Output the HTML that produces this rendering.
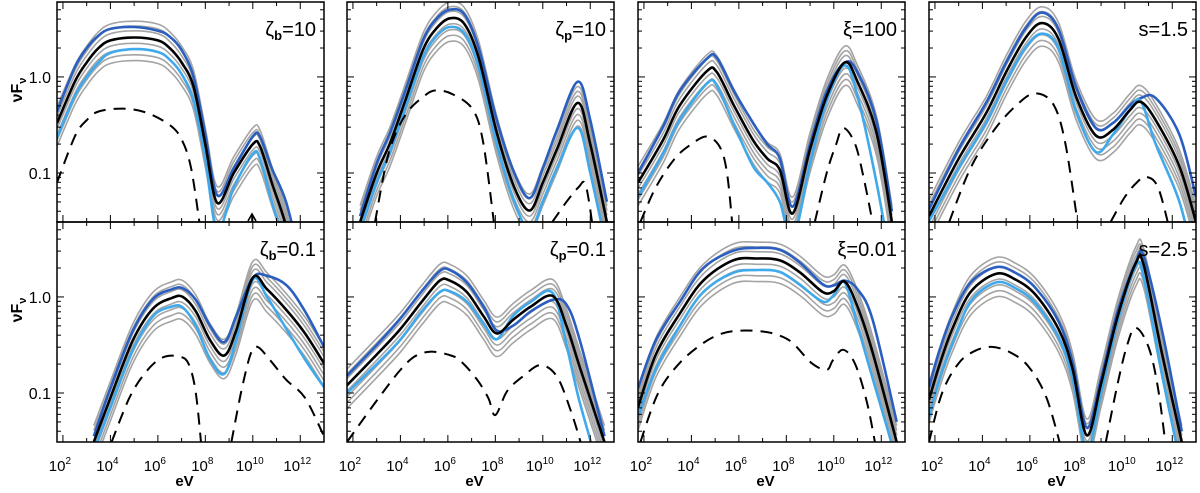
<!DOCTYPE html>
<html><head><meta charset="utf-8">
<style>
html,body{margin:0;padding:0;background:#fff;}
svg text{font-family:"Liberation Sans","DejaVu Sans",sans-serif;}
</style></head>
<body>
<svg id="chart" width="1200" height="488" viewBox="0 0 1200 488" xmlns="http://www.w3.org/2000/svg">
</svg>
<script>
// ---- data (log10 eV, log10 nuFnu) ----
const E1=[1.75,2.5,3,3.5,4,5,6,6.5,7,7.5,8,8.5,9.2,10,10.3,10.8,11.4,12];
const black1=[-0.48,-0.05,0.15,0.3,0.38,0.41,0.38,0.3,0.15,-0.1,-0.7,-1.31,-1.0,-0.70,-0.72,-1.1,-1.55,-2.2];
const blue1=[-0.36,0.1,0.3,0.43,0.5,0.52,0.48,0.42,0.28,0.0,-0.6,-1.23,-0.95,-0.62,-0.62,-0.95,-1.3,-1.9];
const light1=[-0.63,-0.2,0.0,0.15,0.25,0.29,0.26,0.18,0.03,-0.25,-0.85,-1.6,-1.15,-0.8,-0.85,-1.3,-1.8,-2.4];
const dashE1=[[1.75,2.5,3,3.5,4.5,5.5,6.5,7,7.4,7.8]];
const dashV1=[[-1.1,-0.62,-0.45,-0.36,-0.33,-0.37,-0.5,-0.65,-0.95,-1.6]];

const E2=[2.3,3,3.56,4.2,4.95,5.5,6.08,6.7,7.3,8.06,8.8,9.45,10,10.6,11.47,12,12.7];
const black2=[-1.51,-1.0,-0.69,-0.25,0.28,0.5,0.61,0.55,0.2,-0.58,-1.15,-1.39,-1.1,-0.75,-0.27,-0.7,-1.51];
const blue2=[-1.45,-0.9,-0.58,-0.15,0.38,0.6,0.70,0.65,0.3,-0.45,-1.0,-1.26,-0.95,-0.55,-0.05,-0.45,-1.3];
const light2=[-1.6,-1.1,-0.78,-0.33,0.2,0.42,0.52,0.45,0.1,-0.7,-1.3,-1.6,-1.3,-0.95,-0.53,-1.0,-1.8];
const dashE2=[[2.93,3.5,4.2,5,5.5,6.2,7.05,7.5,7.98],[10.4,11,11.5,11.8,12.1]];
const dashV2=[[-1.51,-0.8,-0.4,-0.2,-0.14,-0.18,-0.34,-0.7,-1.6],[-1.51,-1.3,-1.15,-1.12,-1.55]];

const E3=[1.75,2.8,3.5,4.65,5.07,5.8,6.6,7.2,7.73,8.27,9,9.7,10.46,11,11.8,12.45];
const black3=[-1.1,-0.66,-0.3,0.06,0.05,-0.3,-0.66,-0.85,-0.97,-1.42,-0.75,-0.2,0.15,-0.05,-0.58,-1.51];
const blue3=[-1.0,-0.52,-0.15,0.19,0.2,-0.15,-0.48,-0.7,-0.85,-1.35,-0.7,-0.15,0.15,0.05,-0.46,-1.4];
const light3=[-1.25,-0.8,-0.45,-0.07,-0.09,-0.5,-0.93,-1.1,-1.3,-1.7,-0.9,-0.25,0.12,-0.2,-1.1,-2.0];
const dashE3=[[1.85,2.5,3.3,4,4.65,5.2,5.5,5.75],[9.2,9.7,10.1,10.4,10.9,11.3,11.7]];
const dashV3=[[-1.51,-1.15,-0.85,-0.7,-0.62,-0.73,-1.0,-1.6],[-1.51,-1.0,-0.7,-0.53,-0.7,-1.1,-1.6]];

const E4=[1.75,3,4.15,5,5.8,6.5,7.2,7.94,8.78,9.5,10.2,10.67,11.3,12.3,13];
const black4=[-1.45,-0.85,-0.38,0.05,0.4,0.56,0.4,-0.2,-0.61,-0.55,-0.35,-0.26,-0.45,-0.93,-1.51];
const blue4=[-1.38,-0.75,-0.27,0.15,0.5,0.67,0.5,-0.1,-0.53,-0.48,-0.3,-0.22,-0.22,-0.6,-1.25];
const light4=[-1.5,-0.95,-0.48,-0.05,0.3,0.45,0.3,-0.35,-0.78,-0.6,-0.35,-0.25,-0.7,-1.3,-2.0];
const dashE4=[[2.6,3.5,4.5,5.5,6.25,7,7.5,8.06],[9.4,10,10.5,10.9,11.4,11.9]];
const dashV4=[[-1.51,-0.95,-0.55,-0.28,-0.17,-0.29,-0.7,-1.6],[-1.51,-1.25,-1.1,-1.04,-1.15,-1.6]];

const E5=[3.3,4,4.95,5.8,6.6,7.05,7.6,8.2,8.8,9.3,10,10.6,11.43,12.2,13];
const black5=[-1.51,-1.05,-0.45,-0.12,-0.01,0.0,-0.15,-0.45,-0.61,-0.35,0.2,0.08,-0.14,-0.38,-0.69];
const blue5=[-1.45,-0.95,-0.35,-0.02,0.08,0.09,-0.03,-0.3,-0.47,-0.2,0.2,0.22,0.12,-0.15,-0.52];
const light5=[-1.6,-1.15,-0.55,-0.2,-0.1,-0.11,-0.3,-0.65,-0.8,-0.45,0.18,0.0,-0.34,-0.65,-0.94];
const dashE5=[[4.05,4.8,5.5,6.2,6.9,7.3,7.6,7.85],[9.1,9.5,9.9,10.2,10.7,11.4,12.2,13]];
const dashV5=[[-1.51,-1.05,-0.78,-0.63,-0.62,-0.7,-1.0,-1.6],[-1.51,-1.0,-0.6,-0.52,-0.65,-0.86,-1.05,-1.45]];

const E6=[1.75,3,3.98,4.9,5.66,6.08,6.8,7.5,8.06,8.74,9.5,10.42,11,11.56,12.6];
const black6=[-0.92,-0.6,-0.34,-0.05,0.17,0.17,0.05,-0.2,-0.38,-0.24,-0.1,0.01,-0.3,-0.73,-1.51];
const blue6=[-0.82,-0.5,-0.23,0.06,0.27,0.28,0.15,-0.1,-0.35,-0.3,-0.15,-0.03,-0.08,-0.45,-1.45];
const light6=[-1.0,-0.7,-0.45,-0.15,0.05,0.06,-0.05,-0.28,-0.44,-0.2,-0.05,0.04,-0.5,-1.1,-2.0];
const dashE6=[[1.75,2.5,3.3,4,4.6,5.25,6,6.5,7.2,7.7,8.0,8.5,9.2,9.9,10.6,11.2,11.7]];
const dashV6=[[-1.51,-1.25,-0.98,-0.76,-0.62,-0.57,-0.6,-0.66,-0.85,-1.05,-1.23,-0.98,-0.82,-0.71,-0.83,-1.2,-1.6]];

const E7=[1.75,2.5,3.52,4.5,5.75,6.8,7.73,8.6,9.54,10.0,10.46,11.0,11.64,12.65];
const black7=[-1.15,-0.6,-0.17,0.17,0.38,0.40,0.38,0.25,0.05,0.06,0.16,-0.1,-0.58,-1.51];
const blue7=[-0.95,-0.45,-0.05,0.3,0.48,0.51,0.49,0.35,0.13,0.12,0.17,0.08,-0.24,-1.3];
const light7=[-1.25,-0.75,-0.3,0.05,0.25,0.28,0.26,0.12,-0.05,0.02,0.15,-0.3,-0.85,-1.7];
const dashE7=[[1.85,2.6,3.5,4.5,5.3,6.1,7.0,7.7,8.27,9.07,9.7,9.96,10.4,10.9,11.4,11.8]];
const dashV7=[[-1.51,-1.0,-0.69,-0.48,-0.38,-0.35,-0.36,-0.4,-0.48,-0.69,-0.76,-0.66,-0.55,-0.7,-1.1,-1.6]];

const E8=[1.75,2.2,2.72,3.5,4.57,5.4,6.25,7.22,7.8,8.4,9.0,9.7,10.46,10.8,11.56,12.4];
const black8=[-1.07,-0.7,-0.34,0.05,0.24,0.18,0.02,-0.34,-0.75,-1.44,-0.9,-0.2,0.35,0.33,-0.58,-1.51];
const blue8=[-0.94,-0.55,-0.2,0.15,0.31,0.25,0.09,-0.26,-0.68,-1.36,-0.85,-0.15,0.36,0.42,-0.34,-1.4];
const light8=[-1.25,-0.85,-0.5,-0.05,0.15,0.09,-0.07,-0.43,-0.85,-1.6,-1.0,-0.25,0.32,0.2,-0.8,-1.8];
const dashE8=[[1.75,2.3,3.0,3.7,4.4,5.2,5.96,6.7,7.35],[9.2,9.7,10.1,10.46,11.0,11.4,11.75]];
const dashV8=[[-1.51,-1.0,-0.69,-0.56,-0.52,-0.58,-0.73,-1.05,-1.6],[-1.51,-0.9,-0.5,-0.32,-0.52,-0.95,-1.6]];

const grayOffsets=[0.17,0.12,0.07,-0.06,-0.12,-0.18,-0.24];
const xTickLabels=["2","4","6","8","10","12"];
const yTickValues=[0.1,1.0];
const yTickLabels=["0.1","1.0"];

const panels=[
 {E:E1,k:black1,b:blue1,l:light1,dE:dashE1,dV:dashV1,t:["ζ","b","=10"],name:"zeta-b-10"},
 {E:E2,k:black2,b:blue2,l:light2,dE:dashE2,dV:dashV2,t:["ζ","p","=10"],name:"zeta-p-10"},
 {E:E3,k:black3,b:blue3,l:light3,dE:dashE3,dV:dashV3,t:["ξ","","=100"],name:"xi-100"},
 {E:E4,k:black4,b:blue4,l:light4,dE:dashE4,dV:dashV4,t:["s","","=1.5"],name:"s-1-5"},
 {E:E5,k:black5,b:blue5,l:light5,dE:dashE5,dV:dashV5,t:["ζ","b","=0.1"],name:"zeta-b-0-1"},
 {E:E6,k:black6,b:blue6,l:light6,dE:dashE6,dV:dashV6,t:["ζ","p","=0.1"],name:"zeta-p-0-1"},
 {E:E7,k:black7,b:blue7,l:light7,dE:dashE7,dV:dashV7,t:["ξ","","=0.01"],name:"xi-0-01"},
 {E:E8,k:black8,b:blue8,l:light8,dE:dashE8,dV:dashV8,t:["s","","=2.5"],name:"s-2-5"}
];

// ---- layout ----
const NS="http://www.w3.org/2000/svg";
const svg=document.getElementById('chart');
const lefts=[57,347,638,929], W=267, tops=[2,222], H=220;
const YMAX=0.78, YMIN=-1.51, XMIN=1.75, XMAX=13.0;
function mk(tag,attrs,parent){const e=document.createElementNS(NS,tag);for(const k in attrs)e.setAttribute(k,attrs[k]);(parent||svg).appendChild(e);return e;}
function smooth(pts){
  let d="M"+pts[0][0].toFixed(1)+","+pts[0][1].toFixed(1);
  for(let i=0;i<pts.length-1;i++){
    const p0=pts[Math.max(0,i-1)],p1=pts[i],p2=pts[i+1],p3=pts[Math.min(pts.length-1,i+2)];
    const c1=[p1[0]+(p2[0]-p0[0])/6,p1[1]+(p2[1]-p0[1])/6];
    const c2=[p2[0]-(p3[0]-p1[0])/6,p2[1]-(p3[1]-p1[1])/6];
    d+="C"+c1[0].toFixed(1)+","+c1[1].toFixed(1)+" "+c2[0].toFixed(1)+","+c2[1].toFixed(1)+" "+p2[0].toFixed(1)+","+p2[1].toFixed(1);
  }
  return d;
}
const defs=mk('defs',{});
panels.forEach((p,i)=>{
  const col=i%4,row=Math.floor(i/4);
  const L=lefts[col],T=tops[row];
  const xs=e=>L+(e-XMIN)/(XMAX-XMIN)*W;
  const ys=v=>T+(YMAX-v)/(YMAX-YMIN)*H;
  const cp=mk('clipPath',{id:'c'+i},defs);
  mk('rect',{x:L,y:T,width:W,height:H},cp);
  const g=mk('g',{'clip-path':'url(#c'+i+')'});
  
  
  const line=(E,V,stroke,w,dash,name)=>{
    const el=mk('path',{d:smooth(E.map((e,j)=>[xs(e),ys(V[j])])),fill:'none',stroke:stroke,'stroke-width':w,'stroke-linejoin':'round'},g);
    if(dash)el.setAttribute('stroke-dasharray',dash);
    
    
  };
  grayOffsets.forEach((o,j)=>{
    line(p.E,p.k.map(v=>v+o),'#a4a4a4',1.6,null,'gray-curve-'+(j+1));
  });
  line(p.E,p.b,'#2a5fc0',2.6,null,'dark-blue-curve');
  line(p.E,p.l,'#3fa9ec',2.6,null,'light-blue-curve');
  line(p.E,p.k,'#000',2.6,null,'black-curve');
  p.dE.forEach((E,j)=>line(E,p.dV[j],'#000',2,'12,8','dashed-curve'));
  const fr=mk('rect',{x:L,y:T,width:W,height:H,fill:'none',stroke:'#000','stroke-width':1.5});
  
  
  for(let d=2;d<=13;d++){
    const x=xs(d),len=(d%2===0)?7:4;
    mk('line',{x1:x,x2:x,y1:T+H,y2:T+H-len,stroke:'#000','stroke-width':1});
    mk('line',{x1:x,x2:x,y1:T,y2:T+len,stroke:'#000','stroke-width':1});
  }
  for(let dec=-2;dec<=0;dec++){
    for(let m=1;m<=9;m++){
      const v=dec+Math.log10(m);
      if(v<YMIN||v>YMAX)continue;
      const y=ys(v),len=m===1?7:4;
      mk('line',{x1:L,x2:L+len,y1:y,y2:y,stroke:'#000','stroke-width':1});
      mk('line',{x1:L+W,x2:L+W-len,y1:y,y2:y,stroke:'#000','stroke-width':1});
    }
  }
  const tt=mk('text',{x:L+W-8,y:T+34,'text-anchor':'end','font-size':20,fill:'#000'});
  
  
  const s1=mk('tspan',{},tt);s1.textContent=p.t[0];
  if(p.t[1]){const s2=mk('tspan',{dy:4,'font-size':13,'font-weight':'bold'},tt);s2.textContent=p.t[1];}
  const s3=mk('tspan',{dy:p.t[1]?-4:0},tt);s3.textContent=p.t[2];
  if(col===0){
    yTickValues.forEach((v,j)=>{
      const t=mk('text',{x:L-6,y:ys(Math.log10(v))+6,'text-anchor':'end','font-size':16,fill:'#000'});
      t.textContent=yTickLabels[j];
      
      
    });
    const yt=mk('text',{transform:'translate(22,'+(T+88)+') rotate(-90)','text-anchor':'middle','font-size':16,'font-weight':'bold',fill:'#000'});
    
    
    const a=mk('tspan',{},yt);a.textContent='νF';
    const b=mk('tspan',{dy:4,'font-size':11},yt);b.textContent='ν';
  }
  if(row===1){
    xTickLabels.forEach(lb=>{
      const x=xs(+lb);
      const t=mk('text',{x:x-3,y:471,'text-anchor':'middle','font-size':15,fill:'#000'});
      
      
      const a=mk('tspan',{},t);a.textContent='10';
      const b=mk('tspan',{dy:-7,'font-size':10},t);b.textContent=lb;
    });
    const xt=mk('text',{x:L+W/2-6,y:486,'text-anchor':'middle','font-size':15,'font-weight':'bold',fill:'#000'});
    xt.textContent='eV';
    
    
  }
});
const ar=mk('path',{d:'M248,221 L252,214 L256,221 M252,214 L252,222',fill:'none',stroke:'#000','stroke-width':1.6});


</script>
</body></html>
